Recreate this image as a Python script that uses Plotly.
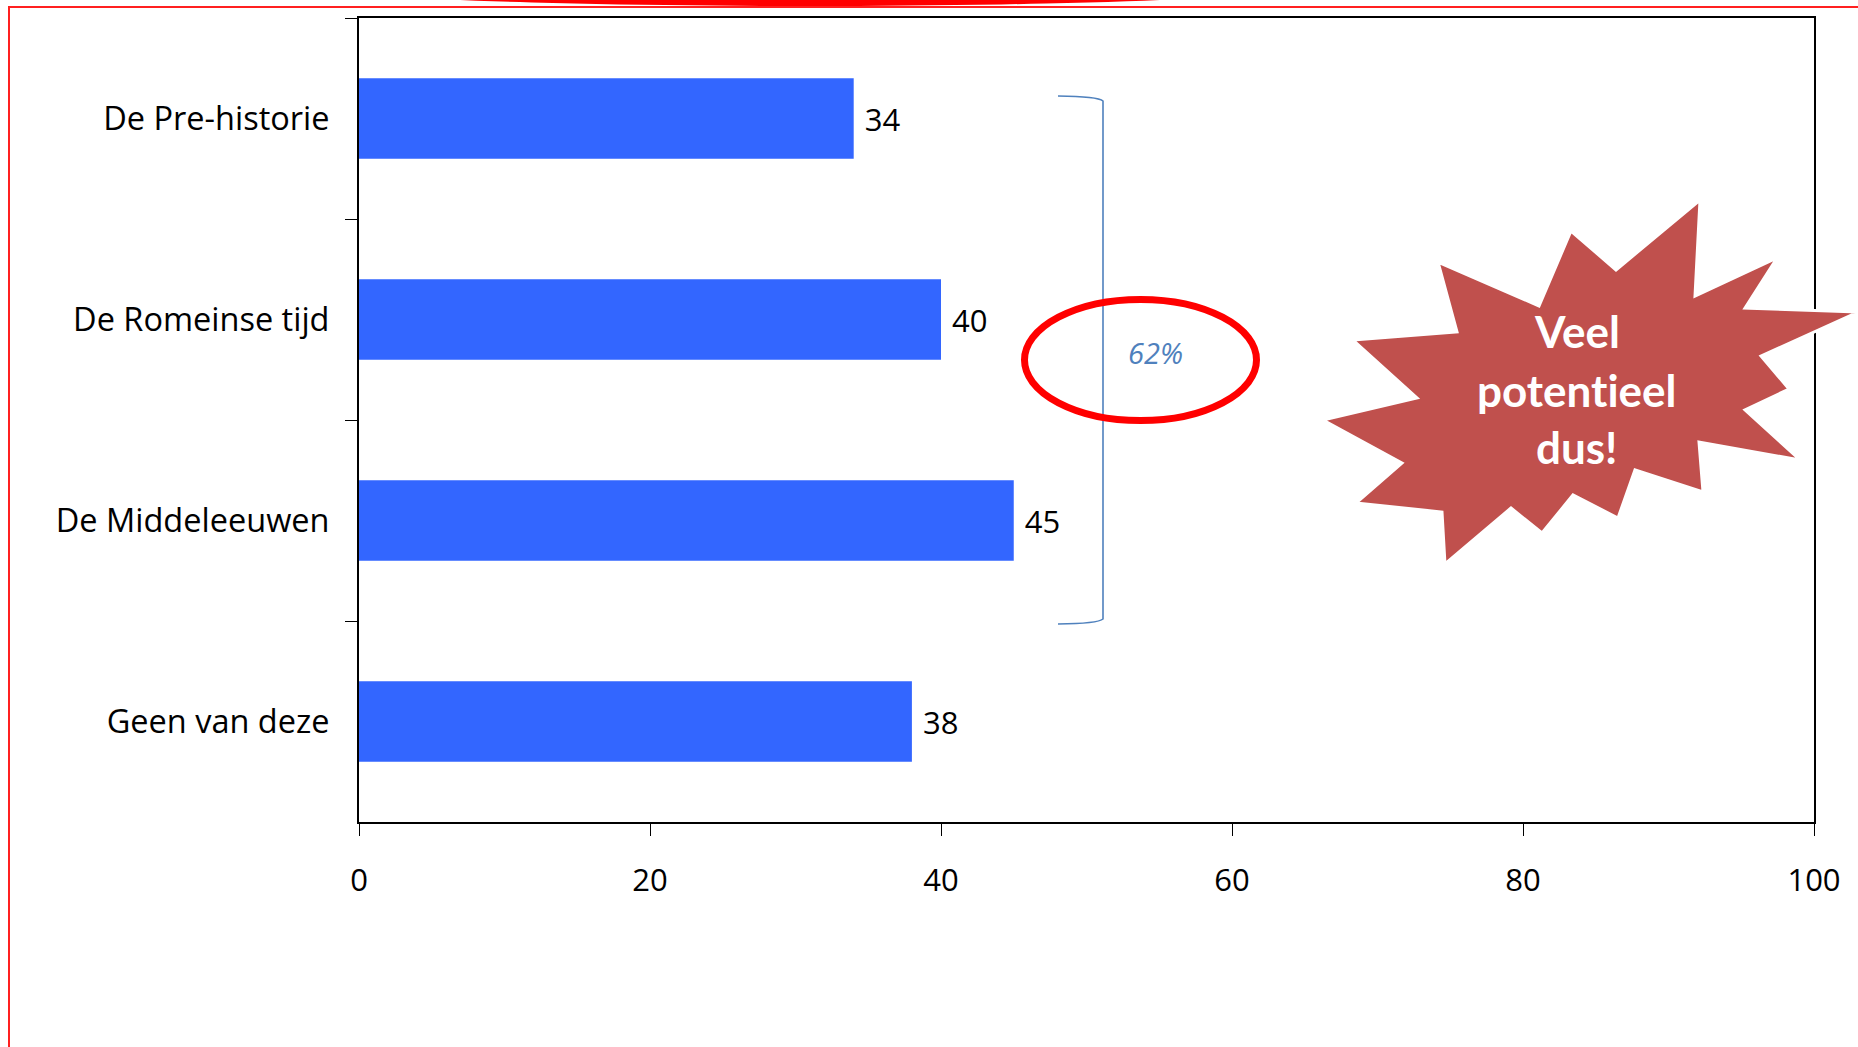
import plotly.graph_objects as go

# ---- data ----
categories = ["De Pre-historie", "De Romeinse tijd", "De Middeleeuwen", "Geen van deze"]
values = [34, 40, 45, 38]
x_ticks = [0, 20, 40, 60, 80, 100]
bracket_label = "62%"
burst_lines = ["Veel", "potent\u200cieel", "dus!"]

W, H = 1858, 1047
L, R, T, B = 359, 1814, 18, 822


def px(x, y):
    return (x - L) / (R - L), (B - y) / (B - T)


fig = go.Figure()
fig.add_trace(go.Bar(
    y=categories, x=values, orientation="h",
    marker=dict(color="#3366ff", line=dict(width=0)),
    texttemplate=" %{x}", textposition="outside",
    textfont=dict(family="Open Sans", size=31, color="black"),
    cliponaxis=False, hoverinfo="skip",
))

shapes = []

# outer red border
x0, y0 = px(9, 7)
x1, y1 = px(1880, 1070)
shapes.append(dict(type="rect", xref="paper", yref="paper", x0=x0, y0=y0, x1=x1, y1=y1,
                   line=dict(color="#ff2020", width=2), fillcolor="rgba(0,0,0,0)", layer="above"))
# red blob at top
x0, y0 = px(310, -36)
x1, y1 = px(1310, 6)
shapes.append(dict(type="circle", xref="paper", yref="paper", x0=x0, y0=y0, x1=x1, y1=y1,
                   line=dict(width=0), fillcolor="#ff0000", layer="above"))

# bracket
pts = [(1058, 96), (1098, 96.5), (1103, 101), (1103, 619), (1098, 623.5), (1058, 624)]
pp = [px(*p) for p in pts]
path = (f"M {pp[0][0]},{pp[0][1]} Q {pp[1][0]},{pp[1][1]} {pp[2][0]},{pp[2][1]} "
        f"L {pp[3][0]},{pp[3][1]} Q {pp[4][0]},{pp[4][1]} {pp[5][0]},{pp[5][1]}")
shapes.append(dict(type="path", xref="paper", yref="paper", path=path,
                   line=dict(color="#4f81bd", width=1.6), layer="above"))

# red ellipse around 62%
x0, y0 = px(1024.5, 299.5)
x1, y1 = px(1256.5, 420.5)
shapes.append(dict(type="circle", xref="paper", yref="paper", x0=x0, y0=y1, x1=x1, y1=y0,
                   line=dict(color="#ff0000", width=7), fillcolor="rgba(0,0,0,0)", layer="above"))

# starburst
star = [(1438, 262), (1539, 306), (1571, 231), (1616, 270), (1700, 200), (1695, 296),
        (1777, 258), (1745, 308), (1858, 312), (1761, 356), (1789, 389), (1745, 410),
        (1800, 460), (1699, 442), (1703, 492), (1635, 470), (1618, 518), (1573, 495),
        (1542, 533), (1511, 508), (1445, 564), (1442, 512), (1356, 503), (1402, 463),
        (1323, 420), (1417, 398), (1353, 340), (1457, 332)]
sp = [px(*p) for p in star]
spath = "M " + " L ".join(f"{a},{b}" for a, b in sp) + " Z"
shapes.append(dict(type="path", xref="paper", yref="paper", path=spath,
                   line=dict(color="white", width=3), fillcolor="#c0504d", layer="above"))

annotations = []
ax, ay = px(1155, 352)
annotations.append(dict(xref="paper", yref="paper", x=ax, y=ay, text=f"<i>{bracket_label}</i>",
                        showarrow=False, xanchor="center", yanchor="middle",
                        font=dict(family="Open Sans", size=29, color="#4f81bd")))
for txt, yy in zip(burst_lines, [331, 390, 447]):
    ax, ay = px(1577, yy)
    annotations.append(dict(xref="paper", yref="paper", x=ax, y=ay, text=f"<b>{txt}</b>",
                            showarrow=False, xanchor="center", yanchor="middle",
                            font=dict(family="Lato", size=44, color="white")))

fig.update_layout(
    width=W, height=H,
    margin=dict(l=L, r=W - R, t=T, b=H - B, pad=0),
    paper_bgcolor="white", plot_bgcolor="white",
    bargap=0.6, showlegend=False,
    shapes=shapes, annotations=annotations,
    font=dict(family="Open Sans", size=32, color="black"),
)
fig.update_xaxes(
    range=[0, 100], tickvals=x_ticks, ticktext=[str(v) for v in x_ticks],
    ticks="outside", ticklen=12, tickwidth=1.3, tickcolor="black",
    showline=True, linecolor="black", linewidth=2, mirror=True,
    showgrid=False, zeroline=False, ticklabelstandoff=18,
    tickfont=dict(family="Open Sans", size=31, color="black"),
)
fig.update_yaxes(
    type="category", categoryorder="array", categoryarray=categories, autorange="reversed",
    ticks="outside", ticklen=12, tickwidth=1.3, tickcolor="black", tickson="boundaries",
    showline=True, linecolor="black", linewidth=2, mirror=True,
    showgrid=False, zeroline=False, ticklabelstandoff=21,
    tickfont=dict(family="Open Sans", size=32.5, color="black"),
)

fig.write_html("out.html")
